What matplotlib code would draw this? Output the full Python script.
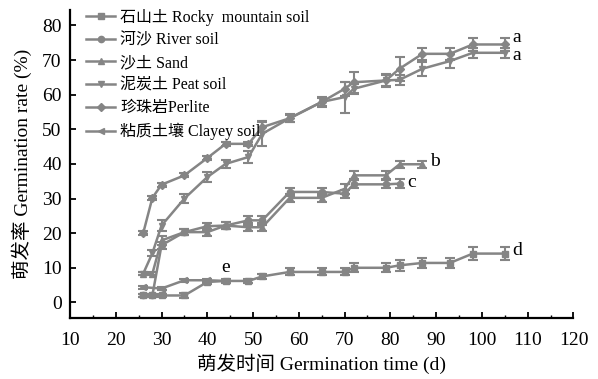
import numpy as np
import matplotlib.pyplot as plt
from matplotlib.ticker import MultipleLocator

plt.rcParams['font.family'] = ['Liberation Serif', 'Noto Sans CJK SC']

# sampling days (d)
days = [26, 28, 30, 35, 40, 44, 49, 52, 58, 65, 70, 72, 79, 82, 87, 93, 98, 105]

# germination rate (%) and error for each substrate
rocky = [2.0, 2.0, 2.0, 2.0, 5.9, 6.2, 6.2, 7.5, 8.8, 8.8, 8.8, 10.0, 10.0, 10.7, 11.4, 11.4, 14.1, 14.1]
rocky_err = [0.5, 0.5, 0.5, 0.6, 0.6, 0.6, 0.6, 0.7, 1.0, 1.0, 1.0, 1.3, 1.3, 1.5, 1.5, 1.5, 1.8, 1.8]

river_days = days[:14]
river = [2.0, 2.0, 16.5, 20.3, 22.0, 22.2, 23.7, 23.7, 31.9, 31.9, 31.4, 34.1, 34.1, 34.3]
river_err = [0.4, 0.4, 1.0, 0.8, 1.0, 1.0, 1.2, 1.2, 1.2, 1.2, 1.2, 1.2, 1.2, 1.2]

sand_days = days[:15]
sand = [8.3, 8.3, 17.9, 20.3, 20.3, 22.2, 21.7, 21.7, 30.2, 30.2, 32.8, 36.7, 36.7, 39.9, 39.9]
sand_err = [0.5, 0.5, 1.2, 0.8, 1.0, 1.0, 1.2, 1.2, 1.2, 1.2, 1.5, 1.2, 1.2, 1.0, 1.0]

peat = [8.3, 14.2, 22.2, 30.0, 36.2, 40.0, 42.0, 48.7, 53.2, 57.9, 59.3, 61.7, 64.1, 64.3, 67.5, 69.7, 72.1, 72.1]
peat_err = [0.5, 0.8, 1.5, 1.2, 1.5, 1.2, 1.6, 3.6, 1.2, 1.5, 4.5, 1.5, 2.0, 1.5, 2.0, 2.0, 1.5, 1.5]

perlite = [20.0, 30.2, 34.0, 36.7, 41.7, 45.8, 45.8, 50.6, 53.2, 57.9, 61.7, 63.6, 64.1, 67.5, 71.8, 71.8, 74.5, 74.5]
perlite_err = [0.5, 0.5, 0.6, 0.6, 0.6, 0.6, 0.6, 1.5, 1.0, 1.2, 2.0, 3.0, 1.5, 3.5, 1.8, 1.8, 1.8, 1.8]

clay_days = [26, 30, 35, 40, 44]
clay = [4.4, 4.0, 6.4, 6.4, 6.2]
clay_err = [0.4, 0.4, 0.4, 0.4, 0.4]

series = [
    ('石山土 Rocky  mountain soil', days, rocky, rocky_err, 's'),
    ('河沙 River soil', river_days, river, river_err, 'o'),
    ('沙土 Sand', sand_days, sand, sand_err, '^'),
    ('泥炭土 Peat soil', days, peat, peat_err, 'v'),
    ('珍珠岩Perlite', days, perlite, perlite_err, 'D'),
    ('粘质土壤 Clayey soil', clay_days, clay, clay_err, '<'),
]

# significance letters: (letter, x, y of the text)
letters = [('a', 105, 76.4), ('a', 105, 71.4), ('b', 87, 40.8),
           ('c', 82, 34.6), ('d', 105, 15.0), ('e', 44, 6.2)]

grey = '#858585'

fig = plt.figure(figsize=(5.98, 3.79), dpi=100)
ax = fig.add_axes([0.117, 0.161, 0.842, 0.813])

for label, x, y, err, m in series:
    ax.errorbar(x, y, yerr=err, fmt='none', ecolor=grey, elinewidth=1.5,
                capsize=3.5, capthick=1.5)
    ax.plot(x, y, color=grey, marker=m, markersize=4.5, linewidth=1.8,
            label=label)

for t, x, y in letters:
    if t == 'e':
        ax.text(x, y + 1.5, t, fontsize=14, ha='center', va='bottom')
    else:
        ax.text(x + 1.6, y, t, fontsize=14, ha='left', va='center')

ax.set_xlim(10, 120)
ax.set_ylim(-4.5, 84.5)
ax.xaxis.set_major_locator(MultipleLocator(10))
ax.xaxis.set_minor_locator(MultipleLocator(5))
ax.yaxis.set_major_locator(MultipleLocator(10))
ax.tick_params(direction='in', length=4, width=1.3, labelsize=14)
ax.tick_params(axis='x', pad=10)
ax.tick_params(axis='y', pad=6)
ax.tick_params(which='minor', direction='in', length=2.5, width=1.0)
ax.spines['top'].set_visible(False)
ax.spines['right'].set_visible(False)
ax.spines['left'].set_linewidth(1.6)
ax.spines['bottom'].set_linewidth(1.6)

ax.set_xlabel('萌发时间 Germination time (d)', fontsize=14, labelpad=3)
ax.set_ylabel('萌发率 Germination rate (%)', fontsize=14, labelpad=7)

ax.legend(loc='upper left', bbox_to_anchor=(0.02, 1.025), frameon=False,
          fontsize=11.5, handlelength=1.8, handletextpad=0.3,
          labelspacing=0.42, borderaxespad=0)

fig.savefig('out.png', dpi=100)
